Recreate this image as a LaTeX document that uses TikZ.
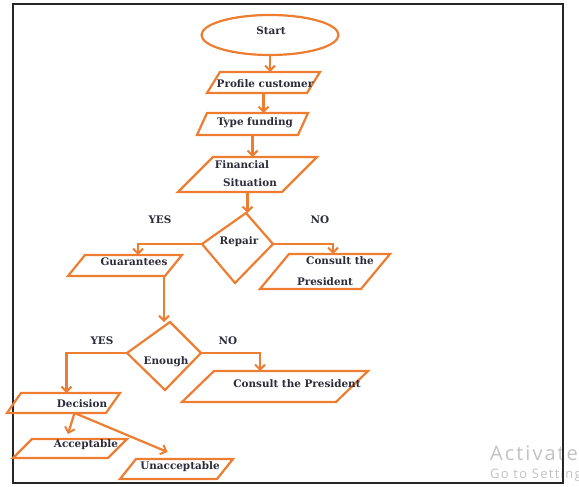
\documentclass[tikz,border=0pt]{standalone}
\usepackage{fontspec}
\setmainfont{DejaVu Serif}
\newfontfamily\wmfont[LetterSpace=10]{Open Sans}
\usetikzlibrary{arrows.meta,shapes.geometric}
\definecolor{flow}{HTML}{ED7D31}
\definecolor{ink}{HTML}{2B2B3A}
\definecolor{wmgray}{HTML}{C2C2C2}

% parallelogram box: name, centre x, centre y, width, height, slant
\newcommand\flowpara[6]{%
  \node[hold, minimum width=#4pt, minimum height=#5pt] (#1) at (#2,#3) {};
  \draw[outline] (#1.south west) -- ([xshift=-#6pt]#1.south east)
    -- (#1.north east) -- ([xshift=#6pt]#1.north west) -- cycle;}

\begin{document}
\begin{tikzpicture}[x=1pt,y=-1pt,
  outline/.style={draw=flow, line width=2.2pt, line join=miter},
  flowline/.style={draw=flow, line width=2.2pt},
  flowarrow/.style={flowline, -{Straight Barb[length=5pt,width=10pt,line width=2pt]}},
  txt/.style={text=ink, inner sep=0pt, font=\bfseries\fontsize{10.4}{12.5}\selectfont},
  hold/.style={inner sep=0pt, outer sep=0pt}
]
\useasboundingbox (0,0) rectangle (579,487);

% system watermark
\node[anchor=base west, inner sep=0pt, text=wmgray, font=\wmfont\fontsize{20}{23}\selectfont] (wm1) at (490,460) {Activate};
\node[anchor=base west, inner sep=0pt, text=wmgray, font=\wmfont\fontsize{13}{15}\selectfont] (wm2) at (490,478) {Go to Settings};

% outer frame
\draw[line width=1.8pt, draw=black!85] (13,4) rectangle (563,483);

% start terminal
\node[ellipse, outline, minimum width=137pt, minimum height=40pt, inner sep=0pt] (start) at (270,35) {};
\node[txt] (tstart) at (271,31) {Start};

% input/output boxes
\flowpara{pc}{263.5}{82.5}{113}{21}{13}
\flowpara{tf}{252.5}{124}{111}{22}{10}
\flowpara{fs}{247.5}{174.5}{139}{35}{35}
\flowpara{gu}{125}{265.5}{114}{21}{17}
\flowpara{cpa}{325}{271.5}{130}{35}{29}
\flowpara{cpb}{275}{386.5}{186}{31}{32}
\flowpara{de}{63.5}{403}{113}{20}{14}
\flowpara{ac}{70}{448.5}{114}{19}{19}
\flowpara{un}{176.5}{469}{113}{20}{16}

\node[txt] (tpc) at (265,84) {Profile customer};
\node[txt] (ttf) at (255,123) {Type funding};
\node[txt] (tfs1) at (242,165) {Financial};
\node[txt] (tfs2) at (250,183) {Situation};
\node[txt] (tgu) at (134,262) {Guarantees};
\node[txt] (tcpa1) at (340,261) {Consult the};
\node[txt] (tcpa2) at (325,282) {President};
\node[txt] (tcpb) at (297,384) {Consult the President};
\node[txt] (tde) at (82,404) {Decision};
\node[txt] (tac) at (86,445) {Acceptable};
\node[txt] (tun) at (180,467) {Unacceptable};

% decisions
\coordinate (rt) at (246,213);
\coordinate (rr) at (273,244);
\coordinate (rb) at (235,283);
\coordinate (rl) at (202,244);
\draw[outline] (rt) -- (rr) -- (rb) -- (rl) -- cycle;
\node[txt] (trep) at (239,242) {Repair};

\coordinate (et) at (170,322);
\coordinate (er) at (201,353);
\coordinate (eb) at (165,390);
\coordinate (el) at (127,353);
\draw[outline] (et) -- (er) -- (eb) -- (el) -- cycle;
\node[txt] (teno) at (166,362) {Enough};

% branch labels
\node[txt] (yes1) at (160,220) {YES};
\node[txt] (no1) at (320,220) {NO};
\node[txt] (yes2) at (102,341) {YES};
\node[txt] (no2) at (228,341) {NO};

% connectors
\draw[flowarrow] (start.south) -- (start.south |- pc.north);
\draw[flowarrow] (pc.south) -- (pc.south |- tf.north);
\draw[flowarrow] (tf.south) -- (tf.south |- fs.north);
\draw[flowarrow] (fs.south) -- (fs.south |- rt);
\draw[flowarrow] (rl) -| ([xshift=13pt]gu.north);
\draw[flowarrow] (rr) -| ([xshift=8pt]cpa.north);
\draw[flowarrow] ([xshift=39pt]gu.south) -- ([xshift=39pt]gu.south |- et);
\draw[flowarrow] (el) -| ([xshift=3pt]de.north);
\draw[flowarrow] (er) -| ([xshift=-15pt]cpb.north);
\draw[flowarrow] ([xshift=11pt]de.south) -- ([xshift=-2pt,yshift=5pt]ac.north);
\draw[flowarrow] ([xshift=11pt]de.south) -- ([xshift=-9pt,yshift=7pt]un.north);
\end{tikzpicture}
\end{document}
